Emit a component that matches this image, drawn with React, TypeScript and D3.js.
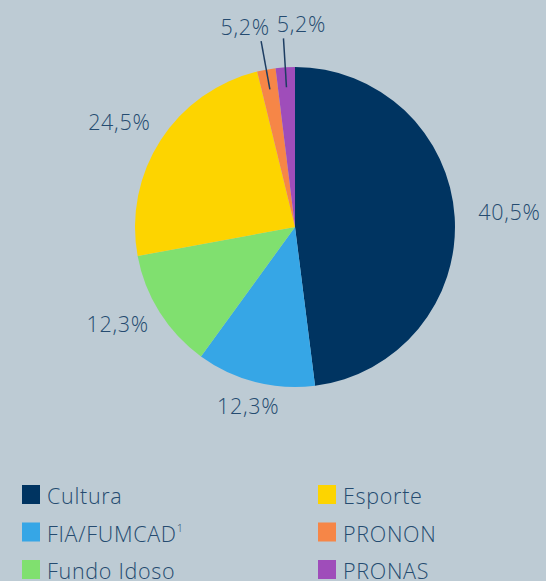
import React from "react";
import * as d3 from "d3";

const categories = ["Cultura", "FIA/FUMCAD", "Fundo Idoso", "Esporte", "PRONON", "PRONAS"];
const sliceShares = [48.0, 12.0, 12.1, 24.1, 1.86, 1.94];
const labelTexts = ["40,5%", "12,3%", "12,3%", "24,5%", "5,2%", "5,2%"];
const colors = ["#003461", "#36a6e6", "#80e06f", "#fdd400", "#f68647", "#9f4dba"];
const legendOrder = [0, 3, 1, 4, 2, 5];
const smallSlices = [4, 5];

const W = 546;
const H = 581;
const cx = 295;
const cy = 227;
const R = 160;
const textColor = "#254b70";
const font = "'Open Sans', Lato, sans-serif";
const fs = 21.5;
const ls = 0.7;

export default function App() {
  const pie = d3.pie<number>().sort(null).value((d) => d)(sliceShares);
  const arc = d3.arc<d3.PieArcDatum<number>>().innerRadius(0).outerRadius(R);
  const pt = (a: number, r: number) => [Math.sin(a) * r, -Math.cos(a) * r];

  return (
    <svg width={W} height={H} style={{ position: "absolute", left: 0, top: 0, background: "#bdcbd4" }}>
      <rect x={0} y={0} width={W} height={H} fill="#bdcbd4" />
      <g transform={`translate(${cx},${cy})`}>
        {pie.map((p, i) => (
          <path key={i} d={arc(p) || ""} fill={colors[i]} />
        ))}
        {pie.map((p, i) => {
          const mid = (p.startAngle + p.endAngle) / 2;
          if (smallSlices.includes(i)) {
            const [x1, y1] = pt(mid, 140);
            const [x2, y2] = pt(mid, 189);
            const dx = i === smallSlices[0] ? -16 : 18;
            return (
              <g key={i}>
                <line x1={x1} y1={y1} x2={x2} y2={y2} stroke="#1d3d62" strokeWidth={1.5} />
                <text x={x2 + dx} y={y2 - 6} textAnchor="middle" fontFamily={font} fontWeight={300} fontSize={fs} letterSpacing={ls} fill={textColor}>
                  {labelTexts[i]}
                </text>
              </g>
            );
          }
          const [px, py] = pt(mid, 180);
          const s = Math.sin(mid);
          const tx = px + s * Math.abs(s) * 35;
          const ty = py - Math.cos(mid) * 8;
          return (
            <text key={i} x={tx} y={ty + 5} textAnchor="middle" fontFamily={font} fontWeight={300} fontSize={fs} letterSpacing={ls} fill={textColor}>
              {labelTexts[i]}
            </text>
          );
        })}
      </g>
      <g>
        {legendOrder.map((ci, k) => {
          const col = k % 2;
          const row = Math.floor(k / 2);
          const x = 22 + col * 296;
          const y = 485 + row * 37.5;
          return (
            <g key={ci}>
              <rect x={x} y={y} width={18} height={19} fill={colors[ci]} />
              <text x={x + 25} y={y + 19} fontFamily={font} fontWeight={300} fontSize={fs} letterSpacing={ls} fill={textColor}>
                {categories[ci]}
                {ci === 1 ? (
                  <tspan fontSize={11} dy={-10}>1</tspan>
                ) : null}
              </text>
            </g>
          );
        })}
      </g>
    </svg>
  );
}
